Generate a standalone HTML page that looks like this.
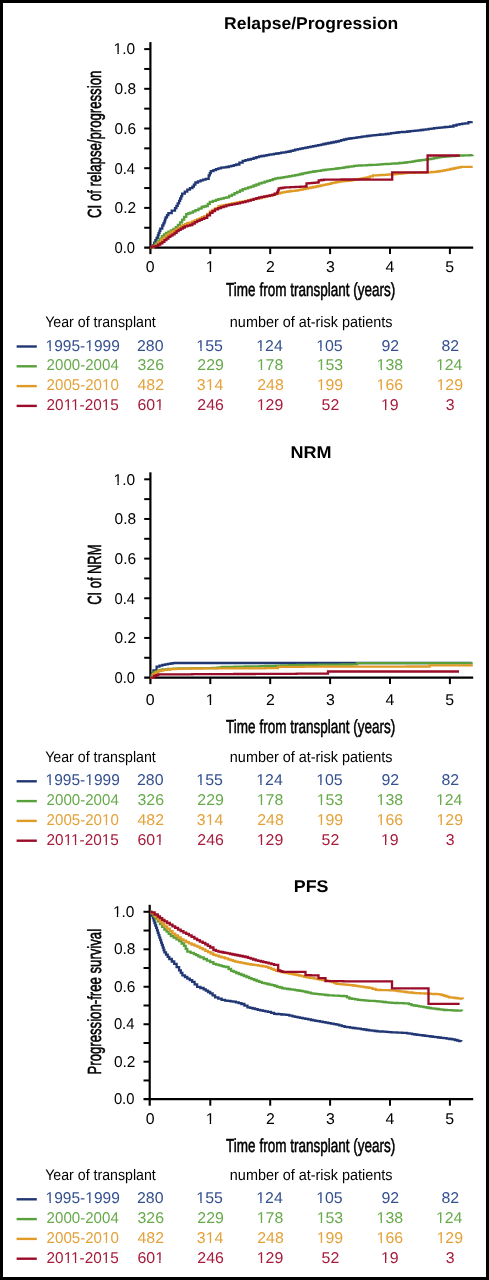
<!DOCTYPE html>
<html><head><meta charset="utf-8"><style>
html,body{margin:0;padding:0;background:#000;}
svg{display:block;will-change:transform;}
text{font-family:"Liberation Sans",sans-serif;text-rendering:geometricPrecision;}
text.l{}
text.c{stroke:#000;stroke-width:0.55px;}
</style></head><body>
<svg width="489" height="1280" viewBox="0 0 489 1280">
<rect x="0" y="0" width="489" height="1280" fill="#000"/>
<rect x="3" y="3" width="483" height="1274" fill="#fff"/>
<line x1="150.4" y1="42.10" x2="150.4" y2="254.10" stroke="#000" stroke-width="2.2"/>
<line x1="144.20" y1="247.6" x2="473.2" y2="247.6" stroke="#000" stroke-width="2.2"/>
<line x1="144.20" y1="227.75" x2="150.4" y2="227.75" stroke="#000" stroke-width="2"/>
<line x1="144.20" y1="207.90" x2="150.4" y2="207.90" stroke="#000" stroke-width="2"/>
<line x1="144.20" y1="188.05" x2="150.4" y2="188.05" stroke="#000" stroke-width="2"/>
<line x1="144.20" y1="168.20" x2="150.4" y2="168.20" stroke="#000" stroke-width="2"/>
<line x1="144.20" y1="148.35" x2="150.4" y2="148.35" stroke="#000" stroke-width="2"/>
<line x1="144.20" y1="128.50" x2="150.4" y2="128.50" stroke="#000" stroke-width="2"/>
<line x1="144.20" y1="108.65" x2="150.4" y2="108.65" stroke="#000" stroke-width="2"/>
<line x1="144.20" y1="88.80" x2="150.4" y2="88.80" stroke="#000" stroke-width="2"/>
<line x1="144.20" y1="68.95" x2="150.4" y2="68.95" stroke="#000" stroke-width="2"/>
<line x1="144.20" y1="49.10" x2="150.4" y2="49.10" stroke="#000" stroke-width="2"/>
<line x1="210.30" y1="247.6" x2="210.30" y2="254.10" stroke="#000" stroke-width="2"/>
<line x1="270.20" y1="247.6" x2="270.20" y2="254.10" stroke="#000" stroke-width="2"/>
<line x1="330.10" y1="247.6" x2="330.10" y2="254.10" stroke="#000" stroke-width="2"/>
<line x1="390.00" y1="247.6" x2="390.00" y2="254.10" stroke="#000" stroke-width="2"/>
<line x1="449.90" y1="247.6" x2="449.90" y2="254.10" stroke="#000" stroke-width="2"/>
<path d="M150.4,247.6H151.3V246.7H152.9V245.1H154.2V242.6H155.4V240.2H156.6V237.8H157.8V235.3H158.6V233.1H159.5V230.9H160.3V228.7H162.3V225.5H163.4V223.4H164.4V221.4H165.0V219.4H165.6V217.3H167.0V215.2H168.4V213.2H171.7V210.7H175.0V208.2H176.4V205.8H177.7V203.3H179.1V200.9H180.1V198.5H181.2V196.1H182.2V193.7H184.8V191.7H187.3V189.7H189.9V188.1H192.4V186.6H193.9V184.6H195.4V182.5H198.0V181.4H200.6V180.4H203.1V179.7H205.7V178.9H208.7V175.3H209.8V173.2H210.8V171.2H213.4V170.2H215.9V169.2H218.4V168.4H221.0V167.7H223.7V167.3H226.4V167.0H228.8V166.4H231.3V165.8H233.8V165.1H236.2V164.5H239.4V162.7H242.7V160.9H245.4V160.2H248.2V159.5H250.9V158.8H253.6V158.0H256.4V157.2H259.1V156.4H261.6V156.0H264.0V155.6H266.4V155.1H268.9V154.7H271.3V154.3H273.8V153.9H276.2V153.5H278.7V153.1H281.1V152.7H283.6V152.3H286.1V151.9H288.5V151.5H290.7V150.9H293.0V150.3H295.2V149.7H297.8V149.2H300.3V148.6H302.8V148.1H305.4V147.6H308.0V147.1H310.5V146.6H313.1V146.1H315.7V145.6H318.2V145.1H320.8V144.6H323.3V144.0H325.9V143.5H328.4V143.0H331.0V142.5H333.6V142.0H336.1V141.5H338.7V140.8H341.2V140.2H343.8V139.5H346.3V138.8H348.9V138.5H351.5V138.1H354.0V137.8H356.6V137.4H359.2V137.1H361.7V136.7H364.2V136.3H366.8V136.0H369.4V135.7H371.9V135.4H374.4V135.1H377.0V134.8H379.9V134.5H382.8V134.3H385.7V134.0H388.4V133.6H391.1V133.2H393.8V132.9H396.5V132.5H399.2V132.2H401.9V132.0H404.5V131.8H407.2V131.5H409.9V131.2H412.6V130.9H415.3V130.7H418.0V130.4H420.7V130.0H423.4V129.7H426.0V129.3H428.7V128.9H431.4V128.6H434.0V128.2H436.7V127.9H439.4V127.6H442.1V127.3H444.8V127.0H447.5V126.8H450.2V126.5H453.4V125.5H456.6V124.6H459.5V124.2H462.3V123.7H465.2V123.3H468.4V122.2H471.6V121.2" fill="none" stroke="#213774" stroke-width="2.3" stroke-linejoin="miter"/>
<path d="M150.4,247.6H152.9V245.9H155.4V243.4H157.8V241.0H159.9V238.6H161.9V236.1H163.9V234.4H166.0V232.8H168.4V231.6H170.9V230.4H173.4V228.8H175.8V227.1H177.9V224.8H180.1V222.4H182.1V219.7H184.2V216.9H186.2V214.2H188.2V213.4H190.3V212.7H192.9V211.4H195.4V210.1H198.5V208.6H201.6V207.0H203.6V206.5H205.7V206.0H207.8V203.9H209.8V201.9H212.9V200.9H215.9V199.9H218.4V199.2H221.0V198.6H223.7V197.9H226.4V197.3H229.1V195.9H231.8V194.6H234.5V193.2H237.2V191.8H240.0V190.5H242.7V189.1H245.4V188.3H248.2V187.4H250.9V186.6H253.6V185.5H256.4V184.5H259.1V183.4H261.8V182.6H264.6V181.7H267.3V180.9H270.0V180.1H272.7V179.2H275.4V178.4H278.1V178.0H280.9V177.6H283.6V177.2H286.5V176.7H289.4V176.2H292.3V175.7H295.2V175.2H297.8V174.6H300.3V174.0H302.8V173.4H305.4V172.8H308.0V172.4H310.5V171.9H313.1V171.5H315.7V171.1H318.2V170.8H320.8V170.4H323.3V170.0H325.9V169.7H328.4V169.4H331.0V169.1H333.6V168.8H336.1V168.5H338.7V168.1H341.2V167.8H343.8V167.4H346.3V167.0H348.9V166.7H351.5V166.3H354.0V165.9H356.6V165.6H359.2V165.5H361.7V165.4H364.2V165.3H366.8V165.2H369.4V165.0H371.9V164.9H374.4V164.8H377.0V164.6H379.9V164.4H382.8V164.2H385.7V164.0H388.4V163.8H391.1V163.7H393.8V163.5H396.5V163.3H399.2V163.0H401.9V162.8H404.5V162.5H407.2V162.2H409.9V161.8H412.6V161.3H415.3V160.9H418.0V160.5H420.7V160.1H423.4V159.8H426.0V159.4H428.7V159.0H431.4V158.6H434.0V158.1H436.7V157.6H439.4V157.2H442.1V156.9H444.8V156.7H447.5V156.4H450.2V156.2H452.9V156.0H455.5V155.8H458.2V155.7H460.9V155.5H463.3V155.4H465.6V155.3H468.0V155.3H470.3V155.2H472.7V155.1" fill="none" stroke="#58a03c" stroke-width="2.3" stroke-linejoin="miter"/>
<path d="M150.4,247.6H153.3V245.9H156.2V244.3H158.6V241.9H161.1V239.4H163.6V237.4H166.0V235.3H168.4V233.7H170.9V232.0H173.4V230.8H175.8V229.5H178.2V227.9H180.7V226.3H182.9V225.2H185.1V224.1H187.3V223.0H190.0V222.6H192.4V221.5H194.8V220.4H197.2V219.3H199.6V218.3H201.9V217.2H204.3V216.2H207.2V213.8H210.0V211.5H212.5V210.0H215.0V208.5H218.6V206.2H221.0V205.6H223.7V205.1H226.4V204.6H229.1V204.1H231.8V203.5H234.6V202.9H237.3V202.4H240.0V201.9H242.7V201.3H245.4V200.8H248.2V200.2H250.9V199.7H253.6V199.2H256.4V198.6H259.1V198.1H261.8V197.4H264.5V196.7H267.2V196.1H270.0V195.4H272.7V194.7H275.4V194.0H277.6V193.5H279.8V192.9H282.0V192.4H284.7V191.9H287.3V191.5H290.0V191.0H292.6V190.8H295.2V190.6H297.8V190.1H300.3V189.6H302.8V189.0H305.4V188.5H308.0V188.0H310.5V187.5H313.1V187.0H315.7V186.5H318.2V186.0H320.8V185.4H323.3V184.9H325.9V184.4H328.4V183.8H331.0V183.2H333.6V182.6H336.1V182.0H338.7V181.7H341.2V181.4H343.8V181.2H346.3V180.9H348.9V180.5H351.5V180.1H354.0V179.7H356.6V179.3H359.2V178.8H361.7V178.3H364.2V177.8H366.8V177.3H369.9V176.4H372.9V175.4H375.7V175.3H378.4V175.1H381.2V175.0H383.9V174.8H386.7V174.7H389.4V174.5H392.2V174.4H394.7V174.2H397.2V173.9H399.7V173.7H402.2V173.4H404.7V173.2H407.2V172.9H409.9V172.8H412.6V172.8H415.3V172.7H417.9V172.6H420.6V172.5H423.3V172.5H426.0V172.4H428.7V172.3H431.4V172.0H434.0V171.8H436.7V171.5H439.4V171.2H442.1V170.6H444.8V170.1H447.5V169.6H450.2V169.0H452.9V168.5H455.5V167.9H458.2V167.4H460.9V166.9L472.7,166.9" fill="none" stroke="#e09a26" stroke-width="2.3" stroke-linejoin="miter"/>
<path d="M150.4,247.6H151.3V246.7H153.8V246.3H156.2V245.9H158.2V244.7H160.3V243.4H162.4V241.8H164.4V240.2H166.4V238.6H168.4V236.9H170.4V235.7H172.5V234.4H174.6V232.8H176.6V231.2H178.6V229.9H180.7V228.7H182.8V227.5H184.8V226.3H187.4V225.7H190.0V225.0H192.4V223.6H194.8V222.2H197.2V220.8H199.6V219.8H201.9V218.9H204.3V217.9H207.2V215.4H210.0V212.9H212.5V211.1H215.0V209.3H218.0V208.2H221.0V207.2H223.7V206.3H226.4V205.4H229.1V204.9H231.8V204.3H234.6V203.8H237.3V203.3H240.0V202.7H242.7V202.2H245.4V201.4H248.2V200.6H250.9V199.8H253.6V198.9H256.4V198.1H259.1V197.3H261.7V196.8H264.3V196.3H267.0V195.8H269.6V195.3H272.2V194.8H274.6V193.6H277.1V192.4H277.9V190.4H278.7V188.3H280.9V188.0H283.1V187.7H285.3V187.4H287.8V187.3H290.3V187.2H292.8V187.1H295.4V186.9H297.9V186.8H300.4V186.7H302.9V186.6H305.4V186.5H306.5V183.4H309.3V183.2H312.1V182.9H314.9V182.7H317.7V182.4H318.7V180.3H321.3V180.0H323.9V179.7H326.4V179.7H328.9V179.7H331.4V179.6H333.9V179.6H336.3V179.6H338.8V179.6H341.3V179.5H343.8V179.5H346.3V179.5H348.9V179.5H351.4V179.5H353.9V179.5H356.5V179.5H359.1V179.5H361.6V179.5H364.1V179.5H366.7V179.5H369.2V179.6H371.8V179.6H374.4V179.6H376.9V179.6H379.4V179.6H382.0V179.6H384.6V179.6H387.1V179.6H389.6V179.6H392.2V179.6L392.2,172.3L427.6,172.3L427.6,155.5L459.8,155.5" fill="none" stroke="#9a0c28" stroke-width="2.3" stroke-linejoin="miter"/>
<line x1="16.6" y1="346.50" x2="36.8" y2="346.50" stroke="#213774" stroke-width="2.4"/>
<line x1="16.6" y1="366.30" x2="36.8" y2="366.30" stroke="#58a03c" stroke-width="2.4"/>
<line x1="16.6" y1="386.10" x2="36.8" y2="386.10" stroke="#e09a26" stroke-width="2.4"/>
<line x1="16.6" y1="405.90" x2="36.8" y2="405.90" stroke="#9a0c28" stroke-width="2.4"/>
<line x1="150.4" y1="472.30" x2="150.4" y2="684.10" stroke="#000" stroke-width="2.2"/>
<line x1="144.20" y1="677.6" x2="473.2" y2="677.6" stroke="#000" stroke-width="2.2"/>
<line x1="144.20" y1="657.77" x2="150.4" y2="657.77" stroke="#000" stroke-width="2"/>
<line x1="144.20" y1="637.94" x2="150.4" y2="637.94" stroke="#000" stroke-width="2"/>
<line x1="144.20" y1="618.11" x2="150.4" y2="618.11" stroke="#000" stroke-width="2"/>
<line x1="144.20" y1="598.28" x2="150.4" y2="598.28" stroke="#000" stroke-width="2"/>
<line x1="144.20" y1="578.45" x2="150.4" y2="578.45" stroke="#000" stroke-width="2"/>
<line x1="144.20" y1="558.62" x2="150.4" y2="558.62" stroke="#000" stroke-width="2"/>
<line x1="144.20" y1="538.79" x2="150.4" y2="538.79" stroke="#000" stroke-width="2"/>
<line x1="144.20" y1="518.96" x2="150.4" y2="518.96" stroke="#000" stroke-width="2"/>
<line x1="144.20" y1="499.13" x2="150.4" y2="499.13" stroke="#000" stroke-width="2"/>
<line x1="144.20" y1="479.30" x2="150.4" y2="479.30" stroke="#000" stroke-width="2"/>
<line x1="210.30" y1="677.6" x2="210.30" y2="684.10" stroke="#000" stroke-width="2"/>
<line x1="270.20" y1="677.6" x2="270.20" y2="684.10" stroke="#000" stroke-width="2"/>
<line x1="330.10" y1="677.6" x2="330.10" y2="684.10" stroke="#000" stroke-width="2"/>
<line x1="390.00" y1="677.6" x2="390.00" y2="684.10" stroke="#000" stroke-width="2"/>
<line x1="449.90" y1="677.6" x2="449.90" y2="684.10" stroke="#000" stroke-width="2"/>
<path d="M150.4,677.6H151.4V675.3H152.5V673.0H153.4V670.3H156.6V666.6H159.5V665.7H162.4V664.8H165.1V664.4H167.8V663.9H170.5V663.5H172.6V663.2H174.6V663.0L471.6,663.0" fill="none" stroke="#213774" stroke-width="2.3" stroke-linejoin="miter"/>
<path d="M150.4,677.6H151.9V675.0H153.4V672.5H155.9V671.5H158.3V670.5H160.4V670.0H162.4V669.5H165.1V669.3H167.8V669.0H170.5V668.8H173.1V668.7H175.7V668.6H178.2V668.5H180.8V668.5H183.4V668.4H186.0V668.3H188.6V668.3H191.3V668.2H193.9V668.2H196.5V668.2H199.2V668.2H201.8V668.1H204.5V668.1H207.1V668.1H209.7V668.1H212.4V668.0H215.0V668.0H217.3V667.7H219.7V667.3H222.0V667.0H224.5V666.9H227.1V666.9H229.6V666.8H232.1V666.8H234.7V666.7H237.2V666.7H239.7V666.6H242.3V666.6H244.8V666.5H247.3V666.5H249.9V666.4H252.4V666.4H254.9V666.3H257.5V666.3H260.0V666.2H262.7V666.1H265.3V666.0H268.0V665.9H270.7V665.9H273.3V665.8H276.0V665.7H278.7V665.6H281.3V665.5H284.0V665.4H286.7V665.3H289.3V665.2H292.0V665.2H294.7V665.1H297.3V665.0H300.0V664.9H302.6V664.9H305.2V664.9H307.8V664.8H310.4V664.8H313.0V664.8H315.5V664.8H318.1V664.7H320.7V664.7H323.3V664.7H325.9V664.7H328.5V664.6H331.1V664.6H333.7V664.6H336.3V664.6H338.9V664.6H341.5V664.5H344.0V664.5H346.6V664.5H349.2V664.5H351.8V664.4H354.4V664.4H357.0V664.4L357.0,663.2L472.7,663.2" fill="none" stroke="#58a03c" stroke-width="2.3" stroke-linejoin="miter"/>
<path d="M150.4,677.6H153.0V674.0H155.5V672.5H158.0V671.0H161.0V670.4H164.0V669.8H167.2V669.5H170.5V669.1H173.1V669.0H175.7V668.9H178.2V668.8H180.8V668.7H183.4V668.6H186.0V668.5H188.6V668.5H191.3V668.5H193.9V668.5H196.5V668.5H199.1V668.5H201.8V668.4H204.4V668.4H207.0V668.4H209.7V668.4H212.3V668.4H214.9V668.4H217.5V668.4H220.2V668.4H222.8V668.4H225.4V668.4H228.1V668.4H230.7V668.4H233.3V668.3H235.9V668.3H238.6V668.3H241.2V668.3H243.8V668.3H246.5V668.3H249.1V668.3H251.7V668.3H254.3V668.3H257.0V668.3H259.6V668.3H262.2V668.3H264.9V668.2H267.5V668.2H270.1V668.2H272.7V668.2H275.4V668.2H278.0V668.2L278.0,666.8H280.6V666.8H283.2V666.8H285.8V666.8H288.5V666.8H291.1V666.8H293.7V666.8H296.3V666.8H298.9V666.8H301.5V666.8H304.1V666.7H306.8V666.7H309.4V666.7H312.0V666.7H314.6V666.7H317.2V666.7H319.8V666.7H322.4V666.7H325.0V666.7H327.7V666.7H330.3V666.7H332.9V666.7H335.5V666.7H338.1V666.7H340.7V666.7H343.3V666.7H346.0V666.7H348.6V666.7H351.2V666.7H353.8V666.6H356.4V666.6H359.0V666.6H361.6V666.6H364.3V666.6H366.9V666.6H369.5V666.6H372.1V666.6H374.7V666.6H377.3V666.6H379.9V666.6H382.6V666.6H385.2V666.6H387.8V666.6H390.4V666.6H393.0V666.6H395.6V666.6H398.2V666.6H400.8V666.6H403.5V666.6H406.1V666.5H408.7V666.5H411.3V666.5H413.9V666.5H416.5V666.5H419.1V666.5H421.8V666.5H424.4V666.5H427.0V666.5H429.6V666.5L429.6,665.3L472.8,665.3" fill="none" stroke="#e09a26" stroke-width="2.3" stroke-linejoin="miter"/>
<path d="M150.4,677.6H154.0V676.0H156.2V675.2H158.3V674.4H160.9V674.4H163.5V674.4H166.1V674.4H168.7V674.4H171.4V674.3H174.0V674.3H176.6V674.3H179.2V674.3H181.8V674.3H184.4V674.3H187.0V674.3H189.6V674.3H192.2V674.2H194.9V674.2H197.5V674.2H200.1V674.2H202.7V674.2H205.3V674.2H207.9V674.2H210.5V674.2H213.1V674.1H215.7V674.1H218.3V674.1H221.0V674.1H223.6V674.1H226.2V674.1H228.8V674.1H231.4V674.1H234.0V674.0H236.6V674.0H239.2V674.0H241.8V674.0H244.5V674.0H247.1V674.0H249.7V674.0H252.3V674.0H254.9V673.9H257.5V673.9H260.1V673.9H262.7V673.9H265.3V673.9H268.0V673.9H270.6V673.9H273.2V673.9H275.8V673.8H278.4V673.8H281.0V673.8H283.6V673.8H286.2V673.8H288.8V673.8H291.4V673.8H294.1V673.8H296.7V673.7H299.3V673.7H301.9V673.7H304.5V673.7H307.1V673.7H309.7V673.7H312.3V673.7H314.9V673.7H317.6V673.6H320.2V673.6H322.8V673.6H325.4V673.6H328.0V673.6L328.0,671.5L459.0,671.5" fill="none" stroke="#9a0c28" stroke-width="2.3" stroke-linejoin="miter"/>
<line x1="16.6" y1="781.30" x2="36.8" y2="781.30" stroke="#213774" stroke-width="2.4"/>
<line x1="16.6" y1="801.10" x2="36.8" y2="801.10" stroke="#58a03c" stroke-width="2.4"/>
<line x1="16.6" y1="820.90" x2="36.8" y2="820.90" stroke="#e09a26" stroke-width="2.4"/>
<line x1="16.6" y1="840.70" x2="36.8" y2="840.70" stroke="#9a0c28" stroke-width="2.4"/>
<line x1="149.7" y1="904.80" x2="149.7" y2="1105.70" stroke="#000" stroke-width="2.2"/>
<line x1="143.50" y1="1099.2" x2="473.2" y2="1099.2" stroke="#000" stroke-width="2.2"/>
<line x1="143.50" y1="1080.46" x2="149.7" y2="1080.46" stroke="#000" stroke-width="2"/>
<line x1="143.50" y1="1061.72" x2="149.7" y2="1061.72" stroke="#000" stroke-width="2"/>
<line x1="143.50" y1="1042.98" x2="149.7" y2="1042.98" stroke="#000" stroke-width="2"/>
<line x1="143.50" y1="1024.24" x2="149.7" y2="1024.24" stroke="#000" stroke-width="2"/>
<line x1="143.50" y1="1005.50" x2="149.7" y2="1005.50" stroke="#000" stroke-width="2"/>
<line x1="143.50" y1="986.76" x2="149.7" y2="986.76" stroke="#000" stroke-width="2"/>
<line x1="143.50" y1="968.02" x2="149.7" y2="968.02" stroke="#000" stroke-width="2"/>
<line x1="143.50" y1="949.28" x2="149.7" y2="949.28" stroke="#000" stroke-width="2"/>
<line x1="143.50" y1="930.54" x2="149.7" y2="930.54" stroke="#000" stroke-width="2"/>
<line x1="143.50" y1="911.80" x2="149.7" y2="911.80" stroke="#000" stroke-width="2"/>
<line x1="210.30" y1="1099.2" x2="210.30" y2="1105.70" stroke="#000" stroke-width="2"/>
<line x1="270.20" y1="1099.2" x2="270.20" y2="1105.70" stroke="#000" stroke-width="2"/>
<line x1="330.10" y1="1099.2" x2="330.10" y2="1105.70" stroke="#000" stroke-width="2"/>
<line x1="390.00" y1="1099.2" x2="390.00" y2="1105.70" stroke="#000" stroke-width="2"/>
<line x1="449.90" y1="1099.2" x2="449.90" y2="1105.70" stroke="#000" stroke-width="2"/>
<path d="M150.4,911.8H151.3V913.2H152.1V915.7H152.9V918.1H153.7V920.5H154.5V923.0H155.3V925.5H156.2V927.9H157.0V930.3H157.8V932.8H158.6V935.2H159.4V937.7H160.3V940.1H161.1V942.6H161.9V945.0H162.8V947.5H163.6V950.0H164.4V952.4H166.0V954.6H167.7V956.8H169.3V959.0H171.8V961.5H174.2V963.9H176.6V967.1H179.1V970.4H180.8V972.8H182.4V975.3H184.9V977.0H187.3V978.6H189.8V980.2H192.2V981.9H194.6V984.3H197.1V986.8H200.3V988.0H203.6V989.3H205.8V990.6H208.0V992.0H210.2V993.3H212.6V995.3H215.1V997.4H218.3V998.6H221.6V999.9H225.0V1000.6H227.7V1000.9H230.5V1001.3H233.2V1001.6H235.9V1002.4H238.7V1003.2H241.4V1004.0H244.4V1005.6H247.5V1007.3H250.1V1007.9H252.6V1008.5H255.1V1009.2H257.7V1009.8H260.2V1010.3H262.8V1010.8H265.3V1011.3H267.9V1011.8H271.0V1012.8H274.1V1013.8H276.5V1014.0H279.0V1014.2H281.4V1014.5H283.9V1014.7H286.3V1014.9H289.4V1015.6H292.5V1016.3H295.1V1016.8H297.6V1017.3H300.1V1017.8H302.7V1018.3H305.4V1018.9H308.2V1019.4H310.9V1020.0H313.2V1020.4H315.4V1020.8H317.7V1021.2H320.0V1021.6H322.7V1022.1H325.5V1022.6H328.2V1023.1H330.9V1023.6H333.7V1024.2H336.4V1024.7H339.1V1025.4H341.8V1026.1H344.5V1026.8H347.2V1027.2H350.0V1027.6H352.7V1028.0H355.4V1028.4H358.2V1028.7H360.9V1029.1H363.6V1029.5H366.4V1030.0H369.1V1030.4H371.8V1030.7H374.6V1031.0H377.3V1031.3H380.1V1031.5H383.0V1031.7H385.9V1031.9H388.7V1032.1H391.5V1032.3H394.2V1032.4H397.0V1032.6H399.6V1032.7H402.2V1032.8H404.8V1032.9H407.2V1033.3H409.7V1033.7H412.2V1034.1H414.6V1034.5H417.2V1034.8H419.8V1035.2H422.5V1035.5H425.1V1035.9H427.7V1036.2H430.3V1036.5H432.9V1036.8H435.6V1037.2H438.2V1037.5H440.8V1037.8H443.7V1038.2H446.6V1038.6H449.4V1039.0H452.3V1039.4H454.8V1040.0H457.2V1040.6H459.2V1041.1H461.3V1041.6" fill="none" stroke="#213774" stroke-width="2.3" stroke-linejoin="miter"/>
<path d="M150.4,911.8H151.3V913.2H153.5V915.9H155.6V918.7H157.8V921.4H160.0V924.1H162.2V926.8H164.4V929.5H166.6V931.7H168.7V933.9H170.9V936.1H173.6V937.7H176.4V939.4H179.1V941.0H181.6V943.5H184.0V945.9H185.7V948.8H187.3V951.6H190.6V952.9H193.8V954.1H196.0V955.2H198.2V956.3H200.4V957.4H203.7V959.0H206.9V960.6H210.2V962.2H213.4V963.9H216.1V964.7H218.9V965.4H221.6V966.2H223.8V966.6H226.0V967.0H228.6V969.0H231.1V970.9H233.7V971.9H236.2V973.0H238.8V974.0H241.4V975.0H243.9V976.0H246.5V977.0H249.1V978.1H251.6V979.1H254.2V980.0H256.7V981.0H259.2V981.9H261.8V982.8H264.4V983.4H266.9V984.0H269.4V984.6H272.0V985.2H274.6V986.0H277.1V986.8H279.7V987.5H282.3V988.3H284.9V988.6H287.4V989.0H289.9V989.4H292.5V989.7H295.1V990.1H297.6V990.5H300.1V990.9H302.7V991.3H305.4V992.0H308.2V992.7H310.9V993.4H313.2V993.6H315.4V993.9H317.7V994.1H320.0V994.4H322.7V994.7H325.5V995.0H328.2V995.3H330.9V995.4H333.6V995.6H336.4V995.7H339.1V995.8H341.8V996.0H344.5V996.1H346.9V997.3H349.4V998.5H352.3V998.9H355.1V999.4H358.0V999.8H360.9V1000.2H363.6V1000.4H366.4V1000.6H369.1V1000.8H371.8V1000.9H374.6V1001.1H377.3V1001.3H380.1V1001.6H383.0V1002.0H385.9V1002.3H388.7V1002.6H391.9V1002.8H395.0V1003.0H397.9V1003.1H400.8V1003.2H403.6V1003.3H406.5V1003.4H408.9V1004.2H411.4V1005.1H413.8V1005.5H416.3V1005.9H418.8V1006.3H421.2V1006.7H423.6V1007.1H426.1V1007.5H428.6V1008.0H431.0V1008.4H433.6V1008.7H436.2V1009.0H438.9V1009.4H441.5V1009.7H444.1V1010.0H446.7V1010.1H449.2V1010.2H451.8V1010.3H454.4V1010.5H457.0V1010.6H459.5V1010.7H462.1V1010.8" fill="none" stroke="#58a03c" stroke-width="2.3" stroke-linejoin="miter"/>
<path d="M150.4,911.8H151.3V913.2H154.6V916.5H157.8V919.7H160.0V921.9H162.2V924.1H164.4V926.3H167.1V928.7H169.8V931.2H172.5V933.6H175.2V935.5H178.0V937.5H180.7V939.4H183.4V940.7H186.2V942.1H188.9V943.4H191.6V944.5H194.4V945.6H197.1V946.7H199.8V948.1H202.6V949.4H205.3V950.8H208.0V952.2H210.7V953.5H213.4V954.9H216.1V955.7H218.9V956.6H221.6V957.4H224.8V958.4H228.0V959.4H230.4V960.2H232.8V960.9H235.2V961.7H237.8V962.2H240.3V962.7H242.8V963.2H245.4V963.7H248.0V964.1H250.6V964.5H253.1V964.8H255.7V965.2H258.2V965.6H260.8V966.0H263.3V966.4H265.9V966.8H268.4V967.8H271.0V968.8H273.6V969.9H276.1V970.9H278.7V971.4H281.2V972.0H283.8V972.5H286.3V973.0H288.9V973.5H291.5V974.0H294.0V974.5H296.6V975.0H299.2V975.6H301.7V976.2H304.2V976.8H306.8V977.4H309.4V977.8H311.9V978.2H314.4V978.7H317.0V979.1H319.6V979.6H322.1V980.0H324.7V980.5H327.2V980.9H329.8V981.4H332.0V982.2H334.2V983.0H336.4V983.8H339.1V984.1H341.8V984.4H344.5V984.6H347.3V984.9H350.0V985.2H352.7V985.5H355.4V985.9H358.2V986.3H360.9V986.7H363.6V987.1H366.4V987.5H369.1V987.9H372.4V988.9H375.6V989.9H378.3V990.0H381.1V990.1H383.8V990.1H386.5V990.2H389.3V990.3H392.0V990.4H394.6V990.7H397.1V991.0H399.7V991.4H402.2V991.7H404.8V992.0H407.2V992.3H409.7V992.5H412.2V992.8H414.6V993.1H417.2V993.2H419.8V993.3H422.5V993.4H425.1V993.5H427.7V993.6H430.6V993.8H433.4V994.0H436.3V994.2H439.2V994.4H441.6V995.1H444.1V995.9H446.6V996.6H449.0V997.4H451.8V997.7H454.6V998.0H457.3V998.4H460.1V998.7H462.9V999.0" fill="none" stroke="#e09a26" stroke-width="2.3" stroke-linejoin="miter"/>
<path d="M150.4,911.8H151.3V912.4H154.6V914.5H157.8V916.5H160.0V918.1H162.2V919.8H164.4V921.4H167.1V923.0H169.8V924.7H172.5V926.3H175.2V927.9H178.0V929.6H180.7V931.2H183.4V932.6H186.2V933.9H188.9V935.3H191.6V936.9H194.4V938.6H197.1V940.2H199.8V941.6H202.6V942.9H205.3V944.3H207.8V945.9H210.2V947.5H213.4V950.0H215.9V950.8H218.3V951.6H220.5V952.0H222.8V952.5H225.0V952.9H227.6V953.4H230.1V954.0H232.6V954.5H235.2V955.0H237.8V955.5H240.3V956.0H242.8V956.5H245.4V957.0H248.0V957.8H250.6V958.6H253.1V959.5H255.7V960.3H258.2V960.9H260.8V961.5H263.3V962.1H265.9V962.7H268.6V963.4H271.4V964.1H274.1V964.8L278.2,964.8L278.2,970.5H280.2V971.2H282.3V971.9L305.5,971.9L305.5,975.2H308.1V975.2H310.7V975.3H313.3V975.3H315.9V975.4H318.5V975.4L318.5,978.1L325.5,978.1L325.5,981.2H328.1V981.2H330.6V981.2H333.2V981.2H335.7V981.2H338.3V981.2H340.8V981.2H343.4V981.3H346.0V981.3H348.5V981.3H351.1V981.3H353.6V981.3H356.2V981.3H358.8V981.3H361.3V981.3H363.9V981.3H366.4V981.3H369.0V981.3H371.5V981.3H374.1V981.3H376.7V981.4H379.2V981.4H381.8V981.4H384.3V981.4H386.9V981.4H389.4V981.4H392.0V981.4L392.0,988.3H394.6V988.3H397.2V988.3H399.8V988.3H402.4V988.3H405.0V988.3H407.6V988.3H410.2V988.3H412.9V988.4H415.5V988.4H418.1V988.4H420.7V988.4H423.3V988.4H425.9V988.4H428.5V988.4L428.5,1003.9L459.6,1003.9" fill="none" stroke="#9a0c28" stroke-width="2.3" stroke-linejoin="miter"/>
<line x1="16.6" y1="1199.30" x2="36.8" y2="1199.30" stroke="#213774" stroke-width="2.4"/>
<line x1="16.6" y1="1219.10" x2="36.8" y2="1219.10" stroke="#58a03c" stroke-width="2.4"/>
<line x1="16.6" y1="1238.90" x2="36.8" y2="1238.90" stroke="#e09a26" stroke-width="2.4"/>
<line x1="16.6" y1="1258.70" x2="36.8" y2="1258.70" stroke="#9a0c28" stroke-width="2.4"/>
<text x="224.07" y="28.80" font-size="17" font-weight="700" fill="#000" textLength="174.23" lengthAdjust="spacingAndGlyphs">Relapse/Progression</text>
<text x="114.50" y="252.90" font-size="15.6" font-weight="400" class="l" fill="#000" textLength="20.59" lengthAdjust="spacingAndGlyphs">0.0</text>
<text x="114.50" y="213.20" font-size="15.6" font-weight="400" class="l" fill="#000" textLength="21.57" lengthAdjust="spacingAndGlyphs">0.2</text>
<text x="114.50" y="173.50" font-size="15.6" font-weight="400" class="l" fill="#000" textLength="20.59" lengthAdjust="spacingAndGlyphs">0.4</text>
<text x="114.50" y="133.80" font-size="15.6" font-weight="400" class="l" fill="#000" textLength="21.57" lengthAdjust="spacingAndGlyphs">0.6</text>
<text x="114.50" y="94.10" font-size="15.6" font-weight="400" class="l" fill="#000" textLength="21.57" lengthAdjust="spacingAndGlyphs">0.8</text>
<text x="113.50" y="54.40" font-size="15.6" font-weight="400" class="l" fill="#000" textLength="21.57" lengthAdjust="spacingAndGlyphs">1.0</text>
<text transform="translate(101.00,217.90) rotate(-90)" x="0.00" y="0" font-size="19" font-weight="400" class="c" fill="#000" textLength="147.19" lengthAdjust="spacingAndGlyphs">CI of relapse/progression</text>
<text x="145.81" y="271.90" font-size="15.6" font-weight="400" class="l" fill="#000" textLength="8.85" lengthAdjust="spacingAndGlyphs">0</text>
<text x="205.71" y="271.90" font-size="15.6" font-weight="400" class="l" fill="#000" textLength="8.85" lengthAdjust="spacingAndGlyphs">1</text>
<text x="266.12" y="271.90" font-size="15.6" font-weight="400" class="l" fill="#000" textLength="8.85" lengthAdjust="spacingAndGlyphs">2</text>
<text x="326.02" y="271.90" font-size="15.6" font-weight="400" class="l" fill="#000" textLength="8.85" lengthAdjust="spacingAndGlyphs">3</text>
<text x="385.41" y="271.90" font-size="15.6" font-weight="400" class="l" fill="#000" textLength="8.85" lengthAdjust="spacingAndGlyphs">4</text>
<text x="445.31" y="271.90" font-size="15.6" font-weight="400" class="l" fill="#000" textLength="8.85" lengthAdjust="spacingAndGlyphs">5</text>
<text x="226.10" y="295.70" font-size="19" font-weight="400" class="c" fill="#000" textLength="169.23" lengthAdjust="spacingAndGlyphs">Time from transplant (years)</text>
<text x="45.20" y="326.70" font-size="15.3" font-weight="400" class="l" fill="#000" textLength="110.60" lengthAdjust="spacingAndGlyphs">Year of transplant</text>
<text x="229.86" y="326.70" font-size="15.3" font-weight="400" class="l" fill="#000" textLength="162.61" lengthAdjust="spacingAndGlyphs">number of at-risk patients</text>
<text x="45.61" y="350.60" font-size="15.6" font-weight="400" class="l" fill="#34508f" textLength="74.16" lengthAdjust="spacingAndGlyphs">1995-1999</text>
<text x="136.96" y="350.60" font-size="15.6" font-weight="400" class="l" fill="#34508f" textLength="26.54" lengthAdjust="spacingAndGlyphs">280</text>
<text x="196.35" y="350.60" font-size="15.6" font-weight="400" class="l" fill="#34508f" textLength="26.54" lengthAdjust="spacingAndGlyphs">155</text>
<text x="256.25" y="350.60" font-size="15.6" font-weight="400" class="l" fill="#34508f" textLength="26.54" lengthAdjust="spacingAndGlyphs">124</text>
<text x="316.15" y="350.60" font-size="15.6" font-weight="400" class="l" fill="#34508f" textLength="26.54" lengthAdjust="spacingAndGlyphs">105</text>
<text x="381.50" y="350.60" font-size="15.6" font-weight="400" class="l" fill="#34508f" textLength="17.69" lengthAdjust="spacingAndGlyphs">92</text>
<text x="441.40" y="350.60" font-size="15.6" font-weight="400" class="l" fill="#34508f" textLength="17.69" lengthAdjust="spacingAndGlyphs">82</text>
<text x="46.60" y="370.40" font-size="15.6" font-weight="400" class="l" fill="#68aa4c" textLength="72.18" lengthAdjust="spacingAndGlyphs">2000-2004</text>
<text x="137.47" y="370.40" font-size="15.6" font-weight="400" class="l" fill="#68aa4c" textLength="26.54" lengthAdjust="spacingAndGlyphs">326</text>
<text x="197.37" y="370.40" font-size="15.6" font-weight="400" class="l" fill="#68aa4c" textLength="26.54" lengthAdjust="spacingAndGlyphs">229</text>
<text x="256.76" y="370.40" font-size="15.6" font-weight="400" class="l" fill="#68aa4c" textLength="26.54" lengthAdjust="spacingAndGlyphs">178</text>
<text x="316.66" y="370.40" font-size="15.6" font-weight="400" class="l" fill="#68aa4c" textLength="26.54" lengthAdjust="spacingAndGlyphs">153</text>
<text x="376.56" y="370.40" font-size="15.6" font-weight="400" class="l" fill="#68aa4c" textLength="26.54" lengthAdjust="spacingAndGlyphs">138</text>
<text x="435.95" y="370.40" font-size="15.6" font-weight="400" class="l" fill="#68aa4c" textLength="26.54" lengthAdjust="spacingAndGlyphs">124</text>
<text x="46.60" y="390.20" font-size="15.6" font-weight="400" class="l" fill="#e4a23a" textLength="72.18" lengthAdjust="spacingAndGlyphs">2005-2010</text>
<text x="137.47" y="390.20" font-size="15.6" font-weight="400" class="l" fill="#e4a23a" textLength="26.54" lengthAdjust="spacingAndGlyphs">482</text>
<text x="196.86" y="390.20" font-size="15.6" font-weight="400" class="l" fill="#e4a23a" textLength="26.54" lengthAdjust="spacingAndGlyphs">314</text>
<text x="257.27" y="390.20" font-size="15.6" font-weight="400" class="l" fill="#e4a23a" textLength="26.54" lengthAdjust="spacingAndGlyphs">248</text>
<text x="316.66" y="390.20" font-size="15.6" font-weight="400" class="l" fill="#e4a23a" textLength="26.54" lengthAdjust="spacingAndGlyphs">199</text>
<text x="376.56" y="390.20" font-size="15.6" font-weight="400" class="l" fill="#e4a23a" textLength="26.54" lengthAdjust="spacingAndGlyphs">166</text>
<text x="436.46" y="390.20" font-size="15.6" font-weight="400" class="l" fill="#e4a23a" textLength="26.54" lengthAdjust="spacingAndGlyphs">129</text>
<text x="46.60" y="410.00" font-size="15.6" font-weight="400" class="l" fill="#a61c3c" textLength="72.18" lengthAdjust="spacingAndGlyphs">2011-2015</text>
<text x="137.47" y="410.00" font-size="15.6" font-weight="400" class="l" fill="#a61c3c" textLength="26.54" lengthAdjust="spacingAndGlyphs">601</text>
<text x="197.37" y="410.00" font-size="15.6" font-weight="400" class="l" fill="#a61c3c" textLength="26.54" lengthAdjust="spacingAndGlyphs">246</text>
<text x="256.76" y="410.00" font-size="15.6" font-weight="400" class="l" fill="#a61c3c" textLength="26.54" lengthAdjust="spacingAndGlyphs">129</text>
<text x="321.60" y="410.00" font-size="15.6" font-weight="400" class="l" fill="#a61c3c" textLength="17.69" lengthAdjust="spacingAndGlyphs">52</text>
<text x="380.99" y="410.00" font-size="15.6" font-weight="400" class="l" fill="#a61c3c" textLength="17.69" lengthAdjust="spacingAndGlyphs">19</text>
<text x="445.82" y="410.00" font-size="15.6" font-weight="400" class="l" fill="#a61c3c" textLength="8.85" lengthAdjust="spacingAndGlyphs">3</text>
<text x="290.44" y="457.80" font-size="17" font-weight="700" fill="#000" textLength="41.03" lengthAdjust="spacingAndGlyphs">NRM</text>
<text x="114.50" y="682.90" font-size="15.6" font-weight="400" class="l" fill="#000" textLength="20.59" lengthAdjust="spacingAndGlyphs">0.0</text>
<text x="114.50" y="643.24" font-size="15.6" font-weight="400" class="l" fill="#000" textLength="21.57" lengthAdjust="spacingAndGlyphs">0.2</text>
<text x="114.50" y="603.58" font-size="15.6" font-weight="400" class="l" fill="#000" textLength="20.59" lengthAdjust="spacingAndGlyphs">0.4</text>
<text x="114.50" y="563.92" font-size="15.6" font-weight="400" class="l" fill="#000" textLength="21.57" lengthAdjust="spacingAndGlyphs">0.6</text>
<text x="114.50" y="524.26" font-size="15.6" font-weight="400" class="l" fill="#000" textLength="21.57" lengthAdjust="spacingAndGlyphs">0.8</text>
<text x="113.50" y="484.60" font-size="15.6" font-weight="400" class="l" fill="#000" textLength="21.57" lengthAdjust="spacingAndGlyphs">1.0</text>
<text transform="translate(101.00,604.80) rotate(-90)" x="0.00" y="0" font-size="19" font-weight="400" class="c" fill="#000" textLength="60.26" lengthAdjust="spacingAndGlyphs">CI of NRM</text>
<text x="145.81" y="705.40" font-size="15.6" font-weight="400" class="l" fill="#000" textLength="8.85" lengthAdjust="spacingAndGlyphs">0</text>
<text x="205.71" y="705.40" font-size="15.6" font-weight="400" class="l" fill="#000" textLength="8.85" lengthAdjust="spacingAndGlyphs">1</text>
<text x="266.12" y="705.40" font-size="15.6" font-weight="400" class="l" fill="#000" textLength="8.85" lengthAdjust="spacingAndGlyphs">2</text>
<text x="326.02" y="705.40" font-size="15.6" font-weight="400" class="l" fill="#000" textLength="8.85" lengthAdjust="spacingAndGlyphs">3</text>
<text x="385.41" y="705.40" font-size="15.6" font-weight="400" class="l" fill="#000" textLength="8.85" lengthAdjust="spacingAndGlyphs">4</text>
<text x="445.31" y="705.40" font-size="15.6" font-weight="400" class="l" fill="#000" textLength="8.85" lengthAdjust="spacingAndGlyphs">5</text>
<text x="226.10" y="732.70" font-size="19" font-weight="400" class="c" fill="#000" textLength="169.23" lengthAdjust="spacingAndGlyphs">Time from transplant (years)</text>
<text x="45.20" y="761.50" font-size="15.3" font-weight="400" class="l" fill="#000" textLength="110.60" lengthAdjust="spacingAndGlyphs">Year of transplant</text>
<text x="229.86" y="761.50" font-size="15.3" font-weight="400" class="l" fill="#000" textLength="162.61" lengthAdjust="spacingAndGlyphs">number of at-risk patients</text>
<text x="45.61" y="785.40" font-size="15.6" font-weight="400" class="l" fill="#34508f" textLength="74.16" lengthAdjust="spacingAndGlyphs">1995-1999</text>
<text x="136.96" y="785.40" font-size="15.6" font-weight="400" class="l" fill="#34508f" textLength="26.54" lengthAdjust="spacingAndGlyphs">280</text>
<text x="196.35" y="785.40" font-size="15.6" font-weight="400" class="l" fill="#34508f" textLength="26.54" lengthAdjust="spacingAndGlyphs">155</text>
<text x="256.25" y="785.40" font-size="15.6" font-weight="400" class="l" fill="#34508f" textLength="26.54" lengthAdjust="spacingAndGlyphs">124</text>
<text x="316.15" y="785.40" font-size="15.6" font-weight="400" class="l" fill="#34508f" textLength="26.54" lengthAdjust="spacingAndGlyphs">105</text>
<text x="381.50" y="785.40" font-size="15.6" font-weight="400" class="l" fill="#34508f" textLength="17.69" lengthAdjust="spacingAndGlyphs">92</text>
<text x="441.40" y="785.40" font-size="15.6" font-weight="400" class="l" fill="#34508f" textLength="17.69" lengthAdjust="spacingAndGlyphs">82</text>
<text x="46.60" y="805.20" font-size="15.6" font-weight="400" class="l" fill="#68aa4c" textLength="72.18" lengthAdjust="spacingAndGlyphs">2000-2004</text>
<text x="137.47" y="805.20" font-size="15.6" font-weight="400" class="l" fill="#68aa4c" textLength="26.54" lengthAdjust="spacingAndGlyphs">326</text>
<text x="197.37" y="805.20" font-size="15.6" font-weight="400" class="l" fill="#68aa4c" textLength="26.54" lengthAdjust="spacingAndGlyphs">229</text>
<text x="256.76" y="805.20" font-size="15.6" font-weight="400" class="l" fill="#68aa4c" textLength="26.54" lengthAdjust="spacingAndGlyphs">178</text>
<text x="316.66" y="805.20" font-size="15.6" font-weight="400" class="l" fill="#68aa4c" textLength="26.54" lengthAdjust="spacingAndGlyphs">153</text>
<text x="376.56" y="805.20" font-size="15.6" font-weight="400" class="l" fill="#68aa4c" textLength="26.54" lengthAdjust="spacingAndGlyphs">138</text>
<text x="435.95" y="805.20" font-size="15.6" font-weight="400" class="l" fill="#68aa4c" textLength="26.54" lengthAdjust="spacingAndGlyphs">124</text>
<text x="46.60" y="825.00" font-size="15.6" font-weight="400" class="l" fill="#e4a23a" textLength="72.18" lengthAdjust="spacingAndGlyphs">2005-2010</text>
<text x="137.47" y="825.00" font-size="15.6" font-weight="400" class="l" fill="#e4a23a" textLength="26.54" lengthAdjust="spacingAndGlyphs">482</text>
<text x="196.86" y="825.00" font-size="15.6" font-weight="400" class="l" fill="#e4a23a" textLength="26.54" lengthAdjust="spacingAndGlyphs">314</text>
<text x="257.27" y="825.00" font-size="15.6" font-weight="400" class="l" fill="#e4a23a" textLength="26.54" lengthAdjust="spacingAndGlyphs">248</text>
<text x="316.66" y="825.00" font-size="15.6" font-weight="400" class="l" fill="#e4a23a" textLength="26.54" lengthAdjust="spacingAndGlyphs">199</text>
<text x="376.56" y="825.00" font-size="15.6" font-weight="400" class="l" fill="#e4a23a" textLength="26.54" lengthAdjust="spacingAndGlyphs">166</text>
<text x="436.46" y="825.00" font-size="15.6" font-weight="400" class="l" fill="#e4a23a" textLength="26.54" lengthAdjust="spacingAndGlyphs">129</text>
<text x="46.60" y="844.80" font-size="15.6" font-weight="400" class="l" fill="#a61c3c" textLength="72.18" lengthAdjust="spacingAndGlyphs">2011-2015</text>
<text x="137.47" y="844.80" font-size="15.6" font-weight="400" class="l" fill="#a61c3c" textLength="26.54" lengthAdjust="spacingAndGlyphs">601</text>
<text x="197.37" y="844.80" font-size="15.6" font-weight="400" class="l" fill="#a61c3c" textLength="26.54" lengthAdjust="spacingAndGlyphs">246</text>
<text x="256.76" y="844.80" font-size="15.6" font-weight="400" class="l" fill="#a61c3c" textLength="26.54" lengthAdjust="spacingAndGlyphs">129</text>
<text x="321.60" y="844.80" font-size="15.6" font-weight="400" class="l" fill="#a61c3c" textLength="17.69" lengthAdjust="spacingAndGlyphs">52</text>
<text x="380.99" y="844.80" font-size="15.6" font-weight="400" class="l" fill="#a61c3c" textLength="17.69" lengthAdjust="spacingAndGlyphs">19</text>
<text x="445.82" y="844.80" font-size="15.6" font-weight="400" class="l" fill="#a61c3c" textLength="8.85" lengthAdjust="spacingAndGlyphs">3</text>
<text x="293.75" y="891.60" font-size="17" font-weight="700" fill="#000" textLength="34.71" lengthAdjust="spacingAndGlyphs">PFS</text>
<text x="113.90" y="1104.00" font-size="15.6" font-weight="400" class="l" fill="#000" textLength="20.59" lengthAdjust="spacingAndGlyphs">0.0</text>
<text x="113.90" y="1066.52" font-size="15.6" font-weight="400" class="l" fill="#000" textLength="21.57" lengthAdjust="spacingAndGlyphs">0.2</text>
<text x="113.90" y="1029.04" font-size="15.6" font-weight="400" class="l" fill="#000" textLength="20.59" lengthAdjust="spacingAndGlyphs">0.4</text>
<text x="113.90" y="991.56" font-size="15.6" font-weight="400" class="l" fill="#000" textLength="21.57" lengthAdjust="spacingAndGlyphs">0.6</text>
<text x="113.90" y="954.08" font-size="15.6" font-weight="400" class="l" fill="#000" textLength="21.57" lengthAdjust="spacingAndGlyphs">0.8</text>
<text x="112.90" y="916.60" font-size="15.6" font-weight="400" class="l" fill="#000" textLength="21.57" lengthAdjust="spacingAndGlyphs">1.0</text>
<text transform="translate(101.00,1073.80) rotate(-90)" x="-0.69" y="0" font-size="19" font-weight="400" class="c" fill="#000" textLength="145.59" lengthAdjust="spacingAndGlyphs">Progression-free survival</text>
<text x="145.81" y="1123.80" font-size="15.6" font-weight="400" class="l" fill="#000" textLength="8.85" lengthAdjust="spacingAndGlyphs">0</text>
<text x="205.71" y="1123.80" font-size="15.6" font-weight="400" class="l" fill="#000" textLength="8.85" lengthAdjust="spacingAndGlyphs">1</text>
<text x="266.12" y="1123.80" font-size="15.6" font-weight="400" class="l" fill="#000" textLength="8.85" lengthAdjust="spacingAndGlyphs">2</text>
<text x="326.02" y="1123.80" font-size="15.6" font-weight="400" class="l" fill="#000" textLength="8.85" lengthAdjust="spacingAndGlyphs">3</text>
<text x="385.41" y="1123.80" font-size="15.6" font-weight="400" class="l" fill="#000" textLength="8.85" lengthAdjust="spacingAndGlyphs">4</text>
<text x="445.31" y="1123.80" font-size="15.6" font-weight="400" class="l" fill="#000" textLength="8.85" lengthAdjust="spacingAndGlyphs">5</text>
<text x="226.10" y="1151.50" font-size="19" font-weight="400" class="c" fill="#000" textLength="169.23" lengthAdjust="spacingAndGlyphs">Time from transplant (years)</text>
<text x="45.20" y="1179.50" font-size="15.3" font-weight="400" class="l" fill="#000" textLength="110.60" lengthAdjust="spacingAndGlyphs">Year of transplant</text>
<text x="229.86" y="1179.50" font-size="15.3" font-weight="400" class="l" fill="#000" textLength="162.61" lengthAdjust="spacingAndGlyphs">number of at-risk patients</text>
<text x="45.61" y="1203.40" font-size="15.6" font-weight="400" class="l" fill="#34508f" textLength="74.16" lengthAdjust="spacingAndGlyphs">1995-1999</text>
<text x="136.96" y="1203.40" font-size="15.6" font-weight="400" class="l" fill="#34508f" textLength="26.54" lengthAdjust="spacingAndGlyphs">280</text>
<text x="196.35" y="1203.40" font-size="15.6" font-weight="400" class="l" fill="#34508f" textLength="26.54" lengthAdjust="spacingAndGlyphs">155</text>
<text x="256.25" y="1203.40" font-size="15.6" font-weight="400" class="l" fill="#34508f" textLength="26.54" lengthAdjust="spacingAndGlyphs">124</text>
<text x="316.15" y="1203.40" font-size="15.6" font-weight="400" class="l" fill="#34508f" textLength="26.54" lengthAdjust="spacingAndGlyphs">105</text>
<text x="381.50" y="1203.40" font-size="15.6" font-weight="400" class="l" fill="#34508f" textLength="17.69" lengthAdjust="spacingAndGlyphs">92</text>
<text x="441.40" y="1203.40" font-size="15.6" font-weight="400" class="l" fill="#34508f" textLength="17.69" lengthAdjust="spacingAndGlyphs">82</text>
<text x="46.60" y="1223.20" font-size="15.6" font-weight="400" class="l" fill="#68aa4c" textLength="72.18" lengthAdjust="spacingAndGlyphs">2000-2004</text>
<text x="137.47" y="1223.20" font-size="15.6" font-weight="400" class="l" fill="#68aa4c" textLength="26.54" lengthAdjust="spacingAndGlyphs">326</text>
<text x="197.37" y="1223.20" font-size="15.6" font-weight="400" class="l" fill="#68aa4c" textLength="26.54" lengthAdjust="spacingAndGlyphs">229</text>
<text x="256.76" y="1223.20" font-size="15.6" font-weight="400" class="l" fill="#68aa4c" textLength="26.54" lengthAdjust="spacingAndGlyphs">178</text>
<text x="316.66" y="1223.20" font-size="15.6" font-weight="400" class="l" fill="#68aa4c" textLength="26.54" lengthAdjust="spacingAndGlyphs">153</text>
<text x="376.56" y="1223.20" font-size="15.6" font-weight="400" class="l" fill="#68aa4c" textLength="26.54" lengthAdjust="spacingAndGlyphs">138</text>
<text x="435.95" y="1223.20" font-size="15.6" font-weight="400" class="l" fill="#68aa4c" textLength="26.54" lengthAdjust="spacingAndGlyphs">124</text>
<text x="46.60" y="1243.00" font-size="15.6" font-weight="400" class="l" fill="#e4a23a" textLength="72.18" lengthAdjust="spacingAndGlyphs">2005-2010</text>
<text x="137.47" y="1243.00" font-size="15.6" font-weight="400" class="l" fill="#e4a23a" textLength="26.54" lengthAdjust="spacingAndGlyphs">482</text>
<text x="196.86" y="1243.00" font-size="15.6" font-weight="400" class="l" fill="#e4a23a" textLength="26.54" lengthAdjust="spacingAndGlyphs">314</text>
<text x="257.27" y="1243.00" font-size="15.6" font-weight="400" class="l" fill="#e4a23a" textLength="26.54" lengthAdjust="spacingAndGlyphs">248</text>
<text x="316.66" y="1243.00" font-size="15.6" font-weight="400" class="l" fill="#e4a23a" textLength="26.54" lengthAdjust="spacingAndGlyphs">199</text>
<text x="376.56" y="1243.00" font-size="15.6" font-weight="400" class="l" fill="#e4a23a" textLength="26.54" lengthAdjust="spacingAndGlyphs">166</text>
<text x="436.46" y="1243.00" font-size="15.6" font-weight="400" class="l" fill="#e4a23a" textLength="26.54" lengthAdjust="spacingAndGlyphs">129</text>
<text x="46.60" y="1262.80" font-size="15.6" font-weight="400" class="l" fill="#a61c3c" textLength="72.18" lengthAdjust="spacingAndGlyphs">2011-2015</text>
<text x="137.47" y="1262.80" font-size="15.6" font-weight="400" class="l" fill="#a61c3c" textLength="26.54" lengthAdjust="spacingAndGlyphs">601</text>
<text x="197.37" y="1262.80" font-size="15.6" font-weight="400" class="l" fill="#a61c3c" textLength="26.54" lengthAdjust="spacingAndGlyphs">246</text>
<text x="256.76" y="1262.80" font-size="15.6" font-weight="400" class="l" fill="#a61c3c" textLength="26.54" lengthAdjust="spacingAndGlyphs">129</text>
<text x="321.60" y="1262.80" font-size="15.6" font-weight="400" class="l" fill="#a61c3c" textLength="17.69" lengthAdjust="spacingAndGlyphs">52</text>
<text x="380.99" y="1262.80" font-size="15.6" font-weight="400" class="l" fill="#a61c3c" textLength="17.69" lengthAdjust="spacingAndGlyphs">19</text>
<text x="445.82" y="1262.80" font-size="15.6" font-weight="400" class="l" fill="#a61c3c" textLength="8.85" lengthAdjust="spacingAndGlyphs">3</text>
<rect x="113.78" y="51.93" width="3.60" height="3.07" fill="#fff"/>
<rect x="118.80" y="51.93" width="3.48" height="3.07" fill="#fff"/>
<rect x="206.02" y="269.43" width="3.67" height="3.07" fill="#fff"/>
<rect x="211.13" y="269.43" width="3.54" height="3.07" fill="#fff"/>
<rect x="45.88" y="348.13" width="3.60" height="3.07" fill="#fff"/>
<rect x="50.89" y="348.13" width="3.48" height="3.07" fill="#fff"/>
<rect x="85.55" y="348.13" width="3.60" height="3.07" fill="#fff"/>
<rect x="90.56" y="348.13" width="3.48" height="3.07" fill="#fff"/>
<rect x="196.66" y="348.13" width="3.67" height="3.07" fill="#fff"/>
<rect x="201.78" y="348.13" width="3.54" height="3.07" fill="#fff"/>
<rect x="256.56" y="348.13" width="3.67" height="3.07" fill="#fff"/>
<rect x="261.68" y="348.13" width="3.54" height="3.07" fill="#fff"/>
<rect x="316.46" y="348.13" width="3.67" height="3.07" fill="#fff"/>
<rect x="321.58" y="348.13" width="3.54" height="3.07" fill="#fff"/>
<rect x="257.07" y="367.93" width="3.67" height="3.07" fill="#fff"/>
<rect x="262.19" y="367.93" width="3.54" height="3.07" fill="#fff"/>
<rect x="316.97" y="367.93" width="3.67" height="3.07" fill="#fff"/>
<rect x="322.09" y="367.93" width="3.54" height="3.07" fill="#fff"/>
<rect x="376.87" y="367.93" width="3.67" height="3.07" fill="#fff"/>
<rect x="381.99" y="367.93" width="3.54" height="3.07" fill="#fff"/>
<rect x="436.26" y="367.93" width="3.67" height="3.07" fill="#fff"/>
<rect x="441.38" y="367.93" width="3.54" height="3.07" fill="#fff"/>
<rect x="102.24" y="387.73" width="3.53" height="3.07" fill="#fff"/>
<rect x="107.14" y="387.73" width="3.41" height="3.07" fill="#fff"/>
<rect x="206.02" y="387.73" width="3.67" height="3.07" fill="#fff"/>
<rect x="211.13" y="387.73" width="3.54" height="3.07" fill="#fff"/>
<rect x="316.97" y="387.73" width="3.67" height="3.07" fill="#fff"/>
<rect x="322.09" y="387.73" width="3.54" height="3.07" fill="#fff"/>
<rect x="376.87" y="387.73" width="3.67" height="3.07" fill="#fff"/>
<rect x="381.99" y="387.73" width="3.54" height="3.07" fill="#fff"/>
<rect x="436.77" y="387.73" width="3.67" height="3.07" fill="#fff"/>
<rect x="441.89" y="387.73" width="3.54" height="3.07" fill="#fff"/>
<rect x="63.92" y="407.53" width="3.57" height="3.07" fill="#fff"/>
<rect x="68.88" y="407.53" width="3.45" height="3.07" fill="#fff"/>
<rect x="71.31" y="407.53" width="3.57" height="3.07" fill="#fff"/>
<rect x="76.27" y="407.53" width="3.45" height="3.07" fill="#fff"/>
<rect x="101.99" y="407.53" width="3.57" height="3.07" fill="#fff"/>
<rect x="106.95" y="407.53" width="3.45" height="3.07" fill="#fff"/>
<rect x="155.47" y="407.53" width="3.67" height="3.07" fill="#fff"/>
<rect x="160.59" y="407.53" width="3.54" height="3.07" fill="#fff"/>
<rect x="257.07" y="407.53" width="3.67" height="3.07" fill="#fff"/>
<rect x="262.19" y="407.53" width="3.54" height="3.07" fill="#fff"/>
<rect x="381.30" y="407.53" width="3.67" height="3.07" fill="#fff"/>
<rect x="386.41" y="407.53" width="3.54" height="3.07" fill="#fff"/>
<rect x="113.78" y="482.13" width="3.60" height="3.07" fill="#fff"/>
<rect x="118.80" y="482.13" width="3.48" height="3.07" fill="#fff"/>
<rect x="206.02" y="702.93" width="3.67" height="3.07" fill="#fff"/>
<rect x="211.13" y="702.93" width="3.54" height="3.07" fill="#fff"/>
<rect x="45.88" y="782.93" width="3.60" height="3.07" fill="#fff"/>
<rect x="50.89" y="782.93" width="3.48" height="3.07" fill="#fff"/>
<rect x="85.55" y="782.93" width="3.60" height="3.07" fill="#fff"/>
<rect x="90.56" y="782.93" width="3.48" height="3.07" fill="#fff"/>
<rect x="196.66" y="782.93" width="3.67" height="3.07" fill="#fff"/>
<rect x="201.78" y="782.93" width="3.54" height="3.07" fill="#fff"/>
<rect x="256.56" y="782.93" width="3.67" height="3.07" fill="#fff"/>
<rect x="261.68" y="782.93" width="3.54" height="3.07" fill="#fff"/>
<rect x="316.46" y="782.93" width="3.67" height="3.07" fill="#fff"/>
<rect x="321.58" y="782.93" width="3.54" height="3.07" fill="#fff"/>
<rect x="257.07" y="802.73" width="3.67" height="3.07" fill="#fff"/>
<rect x="262.19" y="802.73" width="3.54" height="3.07" fill="#fff"/>
<rect x="316.97" y="802.73" width="3.67" height="3.07" fill="#fff"/>
<rect x="322.09" y="802.73" width="3.54" height="3.07" fill="#fff"/>
<rect x="376.87" y="802.73" width="3.67" height="3.07" fill="#fff"/>
<rect x="381.99" y="802.73" width="3.54" height="3.07" fill="#fff"/>
<rect x="436.26" y="802.73" width="3.67" height="3.07" fill="#fff"/>
<rect x="441.38" y="802.73" width="3.54" height="3.07" fill="#fff"/>
<rect x="102.24" y="822.53" width="3.53" height="3.07" fill="#fff"/>
<rect x="107.14" y="822.53" width="3.41" height="3.07" fill="#fff"/>
<rect x="206.02" y="822.53" width="3.67" height="3.07" fill="#fff"/>
<rect x="211.13" y="822.53" width="3.54" height="3.07" fill="#fff"/>
<rect x="316.97" y="822.53" width="3.67" height="3.07" fill="#fff"/>
<rect x="322.09" y="822.53" width="3.54" height="3.07" fill="#fff"/>
<rect x="376.87" y="822.53" width="3.67" height="3.07" fill="#fff"/>
<rect x="381.99" y="822.53" width="3.54" height="3.07" fill="#fff"/>
<rect x="436.77" y="822.53" width="3.67" height="3.07" fill="#fff"/>
<rect x="441.89" y="822.53" width="3.54" height="3.07" fill="#fff"/>
<rect x="63.92" y="842.33" width="3.57" height="3.07" fill="#fff"/>
<rect x="68.88" y="842.33" width="3.45" height="3.07" fill="#fff"/>
<rect x="71.31" y="842.33" width="3.57" height="3.07" fill="#fff"/>
<rect x="76.27" y="842.33" width="3.45" height="3.07" fill="#fff"/>
<rect x="101.99" y="842.33" width="3.57" height="3.07" fill="#fff"/>
<rect x="106.95" y="842.33" width="3.45" height="3.07" fill="#fff"/>
<rect x="155.47" y="842.33" width="3.67" height="3.07" fill="#fff"/>
<rect x="160.59" y="842.33" width="3.54" height="3.07" fill="#fff"/>
<rect x="257.07" y="842.33" width="3.67" height="3.07" fill="#fff"/>
<rect x="262.19" y="842.33" width="3.54" height="3.07" fill="#fff"/>
<rect x="381.30" y="842.33" width="3.67" height="3.07" fill="#fff"/>
<rect x="386.41" y="842.33" width="3.54" height="3.07" fill="#fff"/>
<rect x="113.18" y="914.13" width="3.60" height="3.07" fill="#fff"/>
<rect x="118.20" y="914.13" width="3.48" height="3.07" fill="#fff"/>
<rect x="206.02" y="1121.33" width="3.67" height="3.07" fill="#fff"/>
<rect x="211.13" y="1121.33" width="3.54" height="3.07" fill="#fff"/>
<rect x="45.88" y="1200.93" width="3.60" height="3.07" fill="#fff"/>
<rect x="50.89" y="1200.93" width="3.48" height="3.07" fill="#fff"/>
<rect x="85.55" y="1200.93" width="3.60" height="3.07" fill="#fff"/>
<rect x="90.56" y="1200.93" width="3.48" height="3.07" fill="#fff"/>
<rect x="196.66" y="1200.93" width="3.67" height="3.07" fill="#fff"/>
<rect x="201.78" y="1200.93" width="3.54" height="3.07" fill="#fff"/>
<rect x="256.56" y="1200.93" width="3.67" height="3.07" fill="#fff"/>
<rect x="261.68" y="1200.93" width="3.54" height="3.07" fill="#fff"/>
<rect x="316.46" y="1200.93" width="3.67" height="3.07" fill="#fff"/>
<rect x="321.58" y="1200.93" width="3.54" height="3.07" fill="#fff"/>
<rect x="257.07" y="1220.73" width="3.67" height="3.07" fill="#fff"/>
<rect x="262.19" y="1220.73" width="3.54" height="3.07" fill="#fff"/>
<rect x="316.97" y="1220.73" width="3.67" height="3.07" fill="#fff"/>
<rect x="322.09" y="1220.73" width="3.54" height="3.07" fill="#fff"/>
<rect x="376.87" y="1220.73" width="3.67" height="3.07" fill="#fff"/>
<rect x="381.99" y="1220.73" width="3.54" height="3.07" fill="#fff"/>
<rect x="436.26" y="1220.73" width="3.67" height="3.07" fill="#fff"/>
<rect x="441.38" y="1220.73" width="3.54" height="3.07" fill="#fff"/>
<rect x="102.24" y="1240.53" width="3.53" height="3.07" fill="#fff"/>
<rect x="107.14" y="1240.53" width="3.41" height="3.07" fill="#fff"/>
<rect x="206.02" y="1240.53" width="3.67" height="3.07" fill="#fff"/>
<rect x="211.13" y="1240.53" width="3.54" height="3.07" fill="#fff"/>
<rect x="316.97" y="1240.53" width="3.67" height="3.07" fill="#fff"/>
<rect x="322.09" y="1240.53" width="3.54" height="3.07" fill="#fff"/>
<rect x="376.87" y="1240.53" width="3.67" height="3.07" fill="#fff"/>
<rect x="381.99" y="1240.53" width="3.54" height="3.07" fill="#fff"/>
<rect x="436.77" y="1240.53" width="3.67" height="3.07" fill="#fff"/>
<rect x="441.89" y="1240.53" width="3.54" height="3.07" fill="#fff"/>
<rect x="63.92" y="1260.33" width="3.57" height="3.07" fill="#fff"/>
<rect x="68.88" y="1260.33" width="3.45" height="3.07" fill="#fff"/>
<rect x="71.31" y="1260.33" width="3.57" height="3.07" fill="#fff"/>
<rect x="76.27" y="1260.33" width="3.45" height="3.07" fill="#fff"/>
<rect x="101.99" y="1260.33" width="3.57" height="3.07" fill="#fff"/>
<rect x="106.95" y="1260.33" width="3.45" height="3.07" fill="#fff"/>
<rect x="155.47" y="1260.33" width="3.67" height="3.07" fill="#fff"/>
<rect x="160.59" y="1260.33" width="3.54" height="3.07" fill="#fff"/>
<rect x="257.07" y="1260.33" width="3.67" height="3.07" fill="#fff"/>
<rect x="262.19" y="1260.33" width="3.54" height="3.07" fill="#fff"/>
<rect x="381.30" y="1260.33" width="3.67" height="3.07" fill="#fff"/>
<rect x="386.41" y="1260.33" width="3.54" height="3.07" fill="#fff"/>
</svg>
</body></html>
